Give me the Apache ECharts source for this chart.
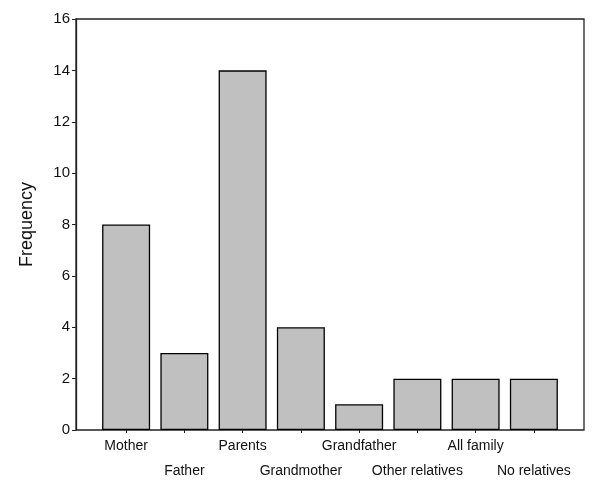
<!DOCTYPE html>
<html>
<head>
<meta charset="utf-8">
<script src="https://cdn.jsdelivr.net/npm/echarts@6/dist/echarts.min.js"></script>
<style>
  html, body { margin: 0; padding: 0; background: #fff; }
  #chart { width: 600px; height: 489px; }
</style>
</head>
<body>
<div id="chart"></div>
<script>
// categories and counts
const categories = ['Mother', 'Father', 'Parents', 'Grandmother', 'Grandfather', 'Other relatives', 'All family', 'No relatives'];
const frequency = [8, 3, 14, 4, 1, 2, 2, 2];
const yTicks = [0, 2, 4, 6, 8, 10, 12, 14, 16];

const font = 'Liberation Sans, Arial, sans-serif';
let myChart = echarts.init(document.getElementById('chart'));

let option = {
    animation: false,
    backgroundColor: '#fff',
    grid: [
        // bars live here
        {left: 97, right: 37, top: 19, bottom: 59},
        // outer frame, a bit wider than the bar area
        {left: 76, right: 16, top: 19, bottom: 59, show: true, borderColor: '#222', borderWidth: 1.3}
    ],
    xAxis: [
        {
            type: 'category', gridIndex: 0, data: categories,
            axisLine: {show: false},
            axisTick: {show: true, alignWithLabel: true, length: 3, lineStyle: {color: '#222'}},
            axisLabel: {
                interval: 0, color: '#111', fontFamily: font, fontSize: 14, margin: 4, lineHeight: 25,
                formatter: (v, i) => (i % 2 === 1 ? '\n' + v : v)
            }
        },
        {type: 'value', gridIndex: 1, show: false}
    ],
    yAxis: [
        {type: 'value', gridIndex: 0, min: yTicks[0], max: yTicks[yTicks.length - 1], interval: 2, show: false},
        {
            type: 'value', gridIndex: 1, min: yTicks[0], max: yTicks[yTicks.length - 1], interval: 2,
            name: 'Frequency', nameLocation: 'middle', nameGap: 40,
            nameTextStyle: {fontFamily: font, fontSize: 18, color: '#111'},
            axisLine: {show: true, lineStyle: {color: '#222', width: 1.3}},
            axisTick: {show: true, length: 4, lineStyle: {color: '#222'}},
            axisLabel: {color: '#111', fontFamily: font, fontSize: 15, margin: 6},
            splitLine: {show: false}
        }
    ],
    series: [{
        type: 'bar',
        xAxisIndex: 0, yAxisIndex: 0,
        data: frequency,
        barWidth: 48,
        itemStyle: {color: '#c0c0c0', borderColor: '#000', borderWidth: 1.3}
    }]
};

myChart.setOption(option);
</script>
</body>
</html>
